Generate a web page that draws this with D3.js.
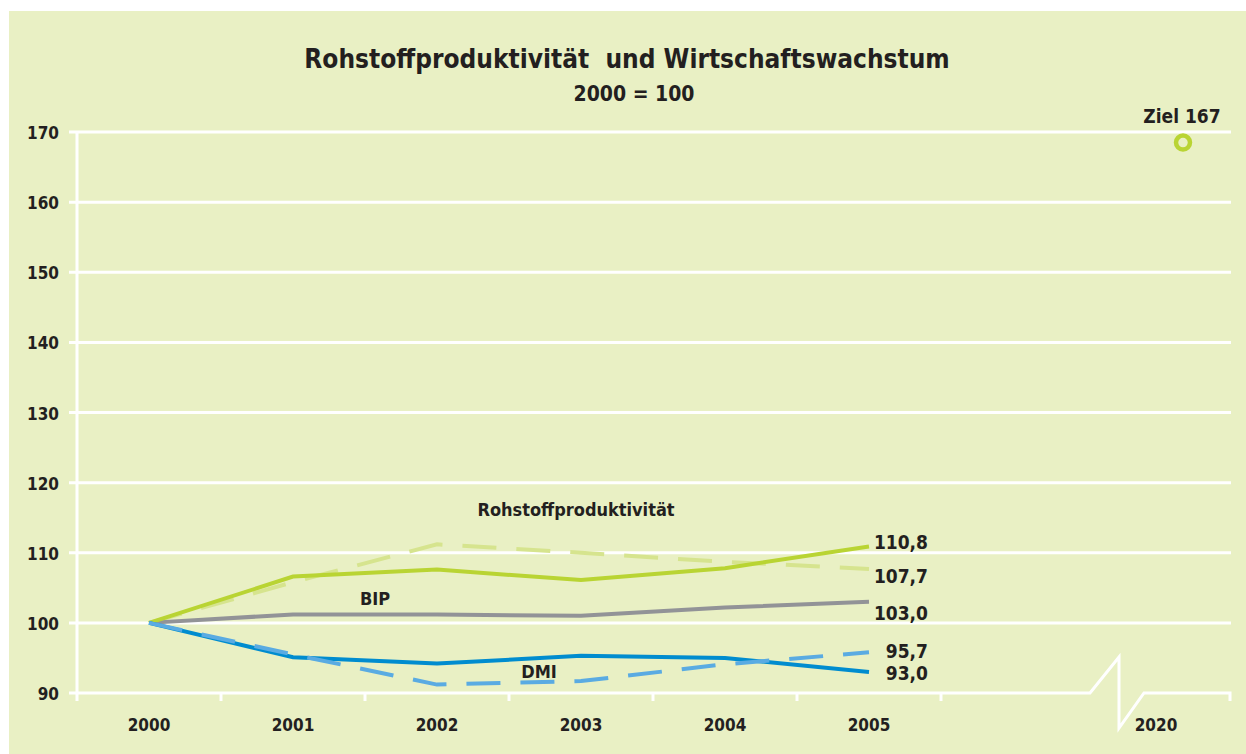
<!DOCTYPE html>
<html>
<head>
<meta charset="utf-8">
<script src="https://cdn.jsdelivr.net/npm/d3@7"></script>
<style>
  body { margin:0; background:#fff; }
  text { font-family:"DejaVu Sans Condensed","DejaVu Sans",sans-serif; font-weight:bold; fill:#231f20; }
</style>
</head>
<body>
<script>
// data
var years = ["2000","2001","2002","2003","2004","2005"];
var slots = ["2000","2001","2002","2003","2004","2005","gap","2020"];
var yTicks = [90,100,110,120,130,140,150,160,170];

var rohstoff     = [100, 106.6, 107.6, 106.1, 107.8, 110.9];
var rohstoffDash = [100, 105.8, 111.2, 110.0, 108.7, 107.7];
var bip          = [100, 101.2, 101.2, 101.0, 102.2, 103.0];
var dmi          = [100, 95.1, 94.2, 95.3, 95.0, 93.0];
var dmiDash      = [100, 95.5, 91.2, 91.7, 94.1, 95.8];

var endLabels = ["110,8","107,7","103,0","95,7","93,0"];
var endLabelVals = [111.5, 106.7, 101.4, 96.0, 92.8];
var zielValue = 168.5;

var width = 1246, height = 754;
var svg = d3.select("body").append("svg")
  .attr("width",width).attr("height",height);

svg.append("rect").attr("x",9).attr("y",11)
  .attr("width",width-9).attr("height",height-11)
  .attr("fill","#e9f0c4");

var x = d3.scaleBand().domain(slots).range([77,1229]);
var y = d3.scaleLinear().domain([90,170]).range([693,132]);
var cx = function(d){ return x(d)+x.bandwidth()/2; };

// title
svg.append("text").attr("x",627).attr("y",68).attr("text-anchor","middle")
  .style("font-size","26px").style("white-space","pre")
  .text("Rohstoffproduktivität  und Wirtschaftswachstum");
svg.append("text").attr("x",634).attr("y",101).attr("text-anchor","middle")
  .style("font-size","21px").text("2000 = 100");

// grid
var grid = svg.append("g");
yTicks.forEach(function(t){
  if (t==90) return;
  grid.append("line").attr("x1",69).attr("x2",1231)
    .attr("y1",y(t)).attr("y2",y(t))
    .attr("stroke","#fff").attr("stroke-width",3);
});
yTicks.forEach(function(t){
  svg.append("text").attr("x",59).attr("y",y(t)+7).attr("text-anchor","end")
    .style("font-size","17px").text(t);
});
// vertical axis
grid.append("line").attr("x1",77).attr("x2",77).attr("y1",y(170)).attr("y2",701)
  .attr("stroke","#fff").attr("stroke-width",3);

// x axis with break
var breakX = x("2020");
var axisPath = "M69," + y(90) + "H" + (breakX+5) + "L" + (breakX+34) + ",657" +
  "V728" + "L" + (breakX+59) + "," + y(90) + "H1230V701";
grid.append("path").attr("d",axisPath).attr("fill","none")
  .attr("stroke","#fff").attr("stroke-width",3);
slots.slice(1).forEach(function(s){
  if (s=="2020") return;
  grid.append("line").attr("x1",x(s)).attr("x2",x(s))
    .attr("y1",y(90)).attr("y2",701)
    .attr("stroke","#fff").attr("stroke-width",3);
});

years.forEach(function(yr){
  svg.append("text").attr("x",cx(yr)).attr("y",731).attr("text-anchor","middle")
    .style("font-size","17px").text(yr);
});
svg.append("text").attr("x",cx("2020")-1).attr("y",731).attr("text-anchor","middle")
  .style("font-size","17px").text("2020");

// lines
var line = d3.line()
  .x(function(d,i){ return cx(years[i]); })
  .y(function(d){ return y(d); });

var series = [
  {v:rohstoffDash, c:"#d6e48e", dash:"34,20"},
  {v:bip, c:"#929397", dash:null},
  {v:rohstoff, c:"#b9d433", dash:null},
  {v:dmi, c:"#008ccf", dash:null},
  {v:dmiDash, c:"#5aabe2", dash:"34,20"}
];
series.forEach(function(s){
  svg.append("path").datum(s.v).attr("d",line)
    .attr("fill","none").attr("stroke",s.c).attr("stroke-width",4)
    .attr("stroke-dasharray",s.dash);
});

// series labels
svg.append("text").attr("x",576).attr("y",516).attr("text-anchor","middle")
  .style("font-size","18px").text("Rohstoffproduktivität");
svg.append("text").attr("x",375).attr("y",605).attr("text-anchor","middle")
  .style("font-size","18px").text("BIP");
svg.append("text").attr("x",539).attr("y",678).attr("text-anchor","middle")
  .style("font-size","18px").text("DMI");

endLabels.forEach(function(l,i){
  svg.append("text").attr("x",928).attr("y",y(endLabelVals[i])+7)
    .attr("text-anchor","end").style("font-size","19px").text(l);
});

// target 2020
svg.append("circle").attr("cx",cx("2020")+26).attr("cy",y(zielValue))
  .attr("r",7).attr("fill","none").attr("stroke","#b9d433").attr("stroke-width",4.5);
svg.append("text").attr("x",cx("2020")+25).attr("y",123).attr("text-anchor","middle")
  .style("font-size","19px").text("Ziel 167");
</script>
</body>
</html>
